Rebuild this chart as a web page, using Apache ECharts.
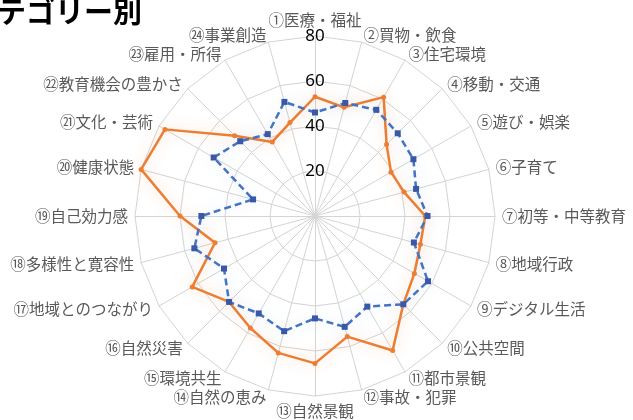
<!DOCTYPE html>
<html>
<head>
<meta charset="utf-8">
<script src="https://cdn.jsdelivr.net/npm/echarts@6/dist/echarts.min.js"></script>
<style>
html,body{margin:0;padding:0;background:#fff;}
#c{width:633px;height:420px;}
</style>
</head>
<body>
<div id="c"></div>
<script>
// Categories in clockwise order starting at the top
const categories = ['①医療・福祉','②買物・飲食','③住宅環境','④移動・交通','⑤遊び・娯楽','⑥子育て','⑦初等・中等教育','⑧地域行政','⑨デジタル生活','⑩公共空間','⑪都市景観','⑫事故・犯罪','⑬自然景観','⑭自然の恵み','⑮環境共生','⑯自然災害','⑰地域とのつながり','⑱多様性と寛容性','⑲自己効力感','⑳健康状態','㉑文化・芸術','㉒教育機会の豊かさ','㉓雇用・所得','㉔事業創造'];
const seriesOrange = [53,50,61,45,39,41,49,48.5,51,55.5,69,55.5,65.5,63,57.5,54,63,46,60,80,77,50.5,38,43];
const seriesBlue   = [46,52,54.5,52,50.5,46.5,50,45.5,58,55.5,46.5,51,45.5,53,50,54,46.7,55.5,50.5,28.5,52,47,42,52.5];
const tickLabels = [20,40,60,80];
const axisMax = 80;
const titleText = 'カテゴリー別';

// ECharts radar runs counter-clockwise; reorder so the picture runs clockwise
function cw(arr){ return [arr[0]].concat(arr.slice(1).reverse()); }

const indicators = cw(categories).map((name, i) => {
  const o = { name: name, min: 0, max: axisMax };
  if (i === 0) o.axisLabel = { show: true };
  return o;
});

const chart = echarts.init(document.getElementById('c'), null, {renderer:'canvas'});
chart.setOption({
  animation: false,
  backgroundColor: '#fff',
  title: {
    text: titleText,
    left: -37, top: -8,
    textStyle: { fontSize: 29, fontWeight: 'bold', color: '#000', fontFamily: 'Noto Sans CJK JP' }
  },
  radar: {
    center: [315, 216],
    radius: 180,
    startAngle: 90,
    splitNumber: 4,
    shape: 'polygon',
    nameGap: 7,
    axisName: { color: '#595959', fontSize: 15.5, fontFamily: 'Noto Sans CJK JP' },
    axisLine: { lineStyle: { color: '#d4d4d4', width: 1 } },
    splitLine: { lineStyle: { color: '#d4d4d4', width: 1 } },
    splitArea: { show: false },
    axisTick: { show: false },
    axisLabel: {
      show: false, margin: 0, align: 'center', verticalAlign: 'middle',
      color: '#000', fontSize: 17, fontFamily: 'Noto Sans',
      formatter: v => tickLabels.indexOf(v) >= 0 ? String(v) : ''
    },
    indicator: indicators
  },
  series: [{
    type: 'radar',
    z: 3,
    data: [
      {
        value: cw(seriesOrange),
        symbol: 'circle', symbolSize: 5,
        itemStyle: { color: '#ED7D31' },
        lineStyle: { color: '#ED7D31', width: 2.5, type: 'solid', shadowBlur: 14, shadowColor: 'rgba(237,125,49,0.35)' }
      },
      {
        value: cw(seriesBlue),
        symbol: 'rect', symbolSize: 6,
        itemStyle: { color: '#3A58A8' },
        lineStyle: { color: '#4472C4', width: 2.5, type: [7, 4], shadowBlur: 14, shadowColor: 'rgba(91,155,213,0.35)' }
      }
    ]
  }]
});
</script>
</body>
</html>
